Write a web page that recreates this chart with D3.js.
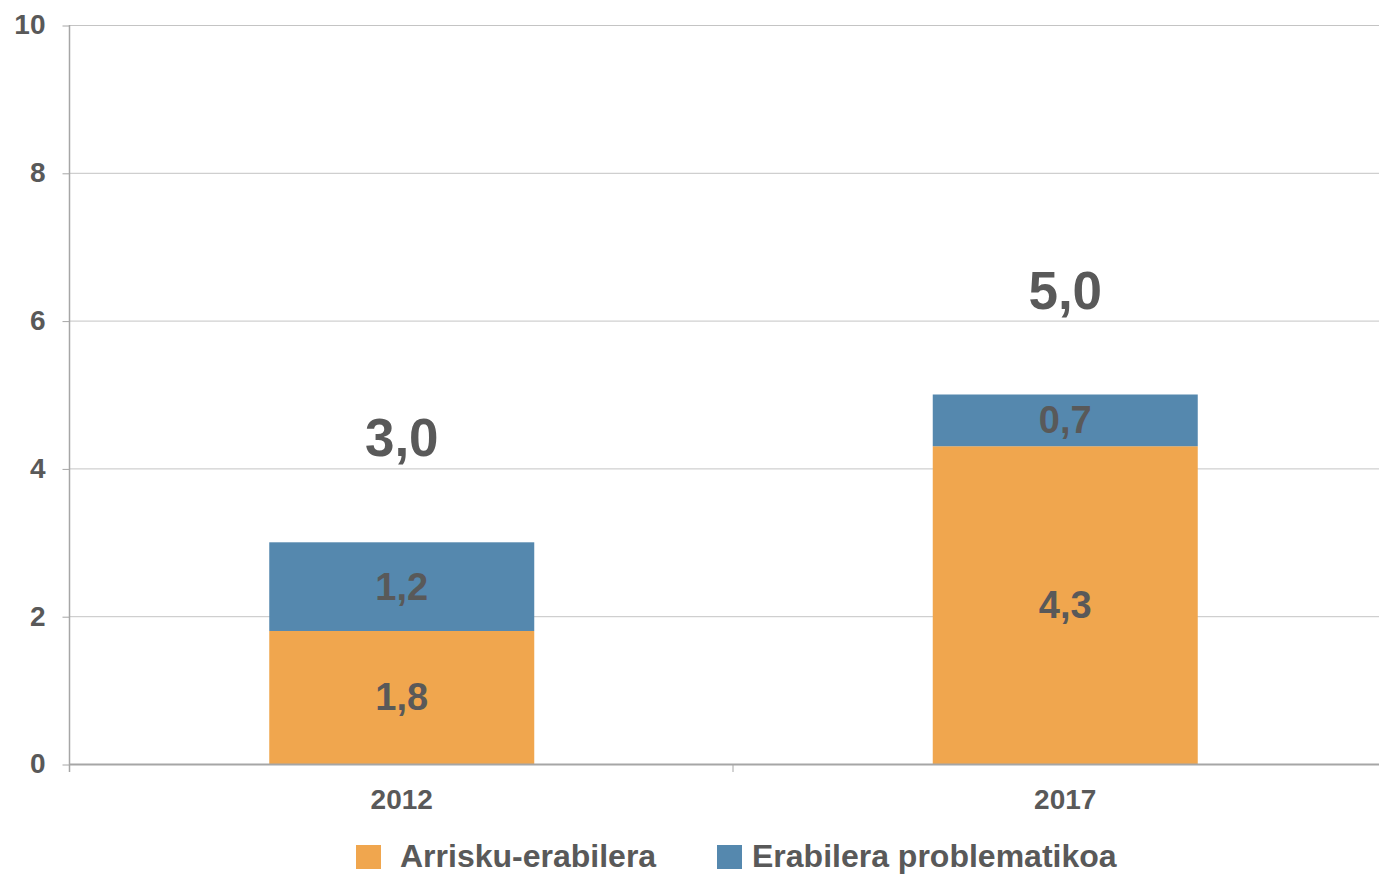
<!DOCTYPE html>
<html>
<head>
<meta charset="utf-8">
<script src="https://cdn.jsdelivr.net/npm/d3@7"></script>
<style>
  body { margin: 0; background: #fff; }
  svg text { font-family: "Liberation Sans", Arial, sans-serif; font-weight: bold; fill: #595959; }
</style>
</head>
<body>
<div id="chart-area"></div>
<script>
// Data
const years = ["2012", "2017"]
const seriesNames = ["Arrisku-erabilera", "Erabilera problematikoa"]
const riskUse = [1.8, 4.3]
const problemUse = [1.2, 0.7]
const totals = [3.0, 5.0]
const yTicks = [0, 2, 4, 6, 8, 10]
const colors = ["#F0A64E", "#5588AE"]

const width = 1379, height = 876
const plot = {left: 70, right: 1379, top: 25, bottom: 764}

const svg = d3.select("#chart-area").append("svg")
    .attr("width", width)
    .attr("height", height)

const fmt = v => d3.format(".1f")(v).replace(".", ",")

// Scales
const x = d3.scaleBand().domain(years).range([plot.left, plot.left + 2 * 663.5])
const y = d3.scaleLinear().domain([0, 10]).range([plot.bottom, plot.top])
const barW = 265

// Gridlines
svg.append("g").selectAll("line")
    .data(yTicks.filter(d => d > 0))
    .join("line")
    .attr("x1", plot.left).attr("x2", plot.right)
    .attr("y1", d => y(d) + 0.5).attr("y2", d => y(d) + 0.5)
    .attr("stroke", "#c4c4c4").attr("stroke-width", 1)

// Y axis
const yAxis = svg.append("g")
    .attr("transform", `translate(${plot.left - 0.5},0)`)
    .call(d3.axisLeft(y).tickValues(yTicks).tickSize(7).tickPadding(17).tickFormat(d3.format("d")))
yAxis.select(".domain").remove()
yAxis.selectAll(".tick line").attr("stroke", "#a6a6a6").attr("transform", "translate(0,0.5)")
yAxis.selectAll(".tick text").attr("font-size", 28).attr("fill", "#595959")
yAxis.append("line")
    .attr("x1", 0).attr("x2", 0)
    .attr("y1", plot.top).attr("y2", plot.bottom + 8)
    .attr("stroke", "#a6a6a6").attr("stroke-width", 1.5)

// Stacked bars
const stackData = years.map((yr, i) => ({year: yr, a: riskUse[i], b: problemUse[i]}))
const stack = d3.stack().keys(["a", "b"])(stackData)

stack.forEach((layer, k) => {
    svg.append("g").selectAll("rect")
        .data(layer)
        .join("rect")
        .attr("x", d => x(d.data.year) + x.bandwidth() / 2 - barW / 2)
        .attr("y", d => y(d[1]))
        .attr("width", barW)
        .attr("height", d => y(d[0]) - y(d[1]))
        .attr("fill", colors[k])

    svg.append("g").selectAll("text")
        .data(layer)
        .join("text")
        .attr("x", d => x(d.data.year) + x.bandwidth() / 2)
        .attr("y", d => (y(d[0]) + y(d[1])) / 2 + 13)
        .attr("text-anchor", "middle")
        .attr("font-size", 38)
        .attr("fill", "#4d4d4d")
        .text(d => fmt(d[1] - d[0]))
})

// Totals
svg.append("g").selectAll("text")
    .data(years)
    .join("text")
    .attr("x", d => x(d) + x.bandwidth() / 2)
    .attr("y", (d, i) => y(totals[i]) - 86)
    .attr("text-anchor", "middle")
    .attr("font-size", 53)
    .attr("fill", "#4d4d4d")
    .text((d, i) => fmt(totals[i]))

// X axis
svg.append("line")
    .attr("x1", plot.left).attr("x2", plot.right)
    .attr("y1", plot.bottom + 0.5).attr("y2", plot.bottom + 0.5)
    .attr("stroke", "#a6a6a6").attr("stroke-width", 2)
svg.append("line")
    .attr("x1", x("2017") - 0.5).attr("x2", x("2017") - 0.5)
    .attr("y1", plot.bottom).attr("y2", plot.bottom + 8)
    .attr("stroke", "#a6a6a6").attr("stroke-width", 1)
svg.append("g").selectAll("text")
    .data(years)
    .join("text")
    .attr("x", d => x(d) + x.bandwidth() / 2)
    .attr("y", 809)
    .attr("text-anchor", "middle")
    .attr("font-size", 28)
    .attr("fill", "#595959")
    .text(d => d)

// Legend
const legendX = [356, 717]
const legend = svg.append("g").selectAll("g")
    .data(seriesNames)
    .join("g")
    .attr("transform", (d, i) => `translate(${legendX[i]},845)`)
legend.append("rect")
    .attr("width", 25).attr("height", 24)
    .attr("fill", (d, i) => colors[i])
legend.append("text")
    .attr("x", (d, i) => i === 0 ? 44 : 35)
    .attr("y", 22)
    .attr("font-size", 32)
    .attr("fill", "#595959")
    .text(d => d)
</script>
</body>
</html>
